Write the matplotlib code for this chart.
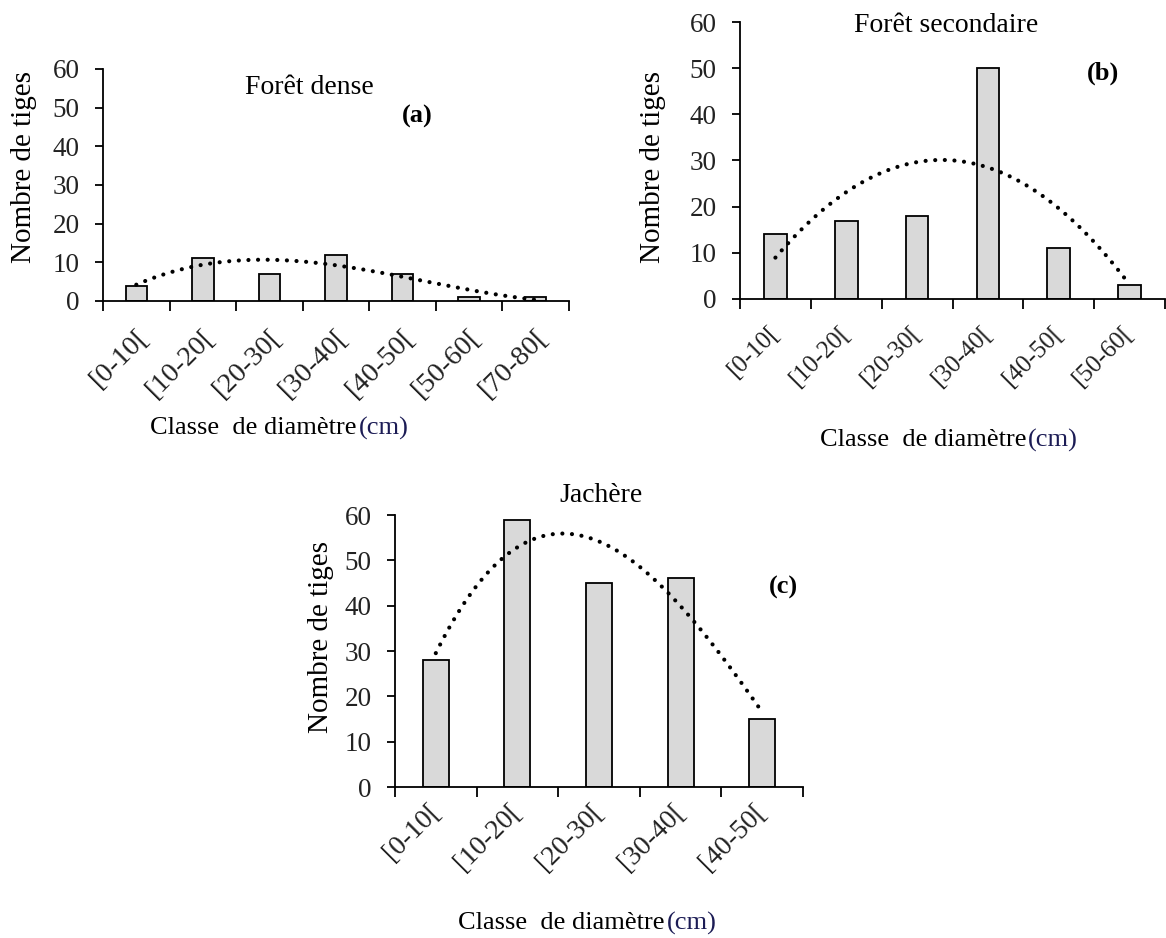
import numpy as np
import matplotlib
matplotlib.use("Agg")
import matplotlib.pyplot as plt
import matplotlib.transforms as mtrans

plt.rcParams['font.family'] = ['Liberation Serif', 'DejaVu Serif']

# -------- data --------
classes_a = ["[0-10[", "[10-20[", "[20-30[", "[30-40[", "[40-50[", "[50-60[", "[70-80["]
tiges_a = [4, 11, 7, 12, 7, 1, 1]

classes_b = ["[0-10[", "[10-20[", "[20-30[", "[30-40[", "[40-50[", "[50-60["]
tiges_b = [14, 17, 18, 50, 11, 3]

classes_c = ["[0-10[", "[10-20[", "[20-30[", "[30-40[", "[40-50["]
tiges_c = [28, 59, 45, 46, 15]

# polynomial order of the Excel trend line in each panel
ordre_a, ordre_b, ordre_c = 3, 2, 3

W, H = 1166, 938
fig = plt.figure(figsize=(W / 100, H / 100), dpi=100)


def px_rect(x0, y_bottom, w, h):
    # pixel box -> figure fraction
    return [x0 / W, 1 - y_bottom / H, w / W, h / H]


def panel(ax, classes, tiges, ordre, lab_size, lab_pad, lab_dx=0):
    n = len(classes)
    x = np.arange(n)
    ax.bar(x, tiges, width=0.32, color='#d9d9d9', edgecolor='black',
           linewidth=1.3, zorder=2)
    # trend line = polynomial fit of the bars
    coef = np.polyfit(x, tiges, ordre)
    xs = np.linspace(0, n - 1, 300)
    ax.plot(xs, np.polyval(coef, xs), color='black', linewidth=3.0,
            linestyle=(0, (0.01, 2.3)), dash_capstyle='round', zorder=3)

    ax.set_xlim(-0.5, n - 0.5)
    ax.set_ylim(0, 60)
    ax.set_yticks(np.arange(0, 61, 10))
    ax.spines['top'].set_visible(False)
    ax.spines['right'].set_visible(False)
    ax.spines['left'].set_linewidth(1.3)
    ax.spines['bottom'].set_linewidth(1.3)
    ax.spines['left'].set_zorder(4)

    ax.set_xticks(np.arange(n + 1) - 0.5)
    ax.set_xticklabels([])
    ax.set_xticks(x, minor=True)
    ax.set_xticklabels(classes, minor=True, rotation=45, ha='right',
                       va='center', rotation_mode='anchor', fontsize=lab_size)
    ax.tick_params(axis='x', which='major', direction='out', length=7, width=1.3)
    ax.tick_params(axis='x', which='minor', length=0, pad=lab_pad)
    ax.tick_params(axis='y', direction='out', length=6, width=1.3,
                   labelsize=19.5, pad=11)
    shift = mtrans.ScaledTranslation(lab_dx / 100, 0, fig.dpi_scale_trans)
    for lab in ax.get_xticklabels(minor=True):
        lab.set_transform(lab.get_transform() + shift)
        lab.set_color('#222222')
    for lab in ax.get_yticklabels():
        lab.set_color('#222222')


def xlabel(xsplit, y):
    fig.text(xsplit / W, 1 - y / H, "Classe  de diamètre", ha='right',
             va='center', fontsize=19)
    fig.text(xsplit / W + 0.002, 1 - y / H, "(cm)", ha='left', va='center',
             fontsize=19, color='#1c1c55')


def ylabel(x, y):
    fig.text(x / W, 1 - y / H, "Nombre de tiges", rotation=90, ha='center',
             va='center', fontsize=21)


def titre(x, y, s):
    fig.text(x / W, 1 - y / H, s, ha='center', va='center', fontsize=20)


def lettre(x, y, s):
    fig.text(x / W, 1 - y / H, s, ha='center', va='center', fontsize=19,
             fontweight='bold')


# -------- (a) Forêt dense --------
ax_a = fig.add_axes(px_rect(103, 301, 466, 232))
panel(ax_a, classes_a, tiges_a, ordre_a, 20.5, 23, lab_dx=8)
ylabel(24, 167)
titre(309, 88, "Forêt dense")
lettre(417, 116, "(a)")
xlabel(357, 428)

# -------- (b) Forêt secondaire --------
ax_b = fig.add_axes(px_rect(740, 299, 425, 277))
panel(ax_b, classes_b, tiges_b, ordre_b, 18, 22)
ylabel(653, 167)
titre(946, 25, "Forêt secondaire")
lettre(1103, 73, "(b)")
xlabel(1026, 440)

# -------- (c) Jachère --------
ax_c = fig.add_axes(px_rect(395, 787, 408, 272))
panel(ax_c, classes_c, tiges_c, ordre_c, 20, 15)
ylabel(321, 637)
titre(601, 495, "Jachère")
lettre(783, 587, "(c)")
xlabel(665, 923)

plt.savefig("out.png", dpi=100)
